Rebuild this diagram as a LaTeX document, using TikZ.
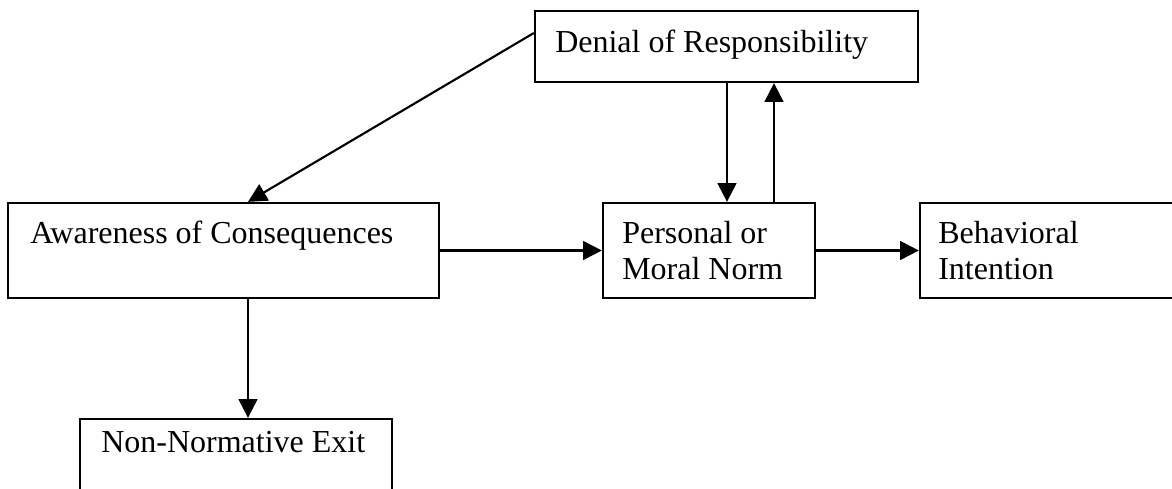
\documentclass[tikz,border=0pt]{standalone}
\usepackage{fontspec}
\setmainfont{Liberation Serif}
\usetikzlibrary{arrows.meta}
\begin{document}
\begin{tikzpicture}[x=0.75pt,y=-0.75pt,
  box/.style={draw=black,line width=1.7pt,inner sep=0pt},
  lbl/.style={anchor=base west,inner sep=0pt,align=left,
    font=\fontsize{24pt}{27pt}\selectfont},
  arr/.style={line width=1.6pt,-{Triangle[length=14pt,width=14pt]}}]
\useasboundingbox (0,0) rectangle (1172,489);
\clip (0,0) rectangle (1172,489);
% boxes
\node[box,minimum width=383*0.75pt,minimum height=71*0.75pt] (den) at (726.5,46.5) {};
\node[box,minimum width=431*0.75pt,minimum height=95*0.75pt] (awa) at (223.5,250.5) {};
\node[box,minimum width=212*0.75pt,minimum height=95*0.75pt] (per) at (709,250.5) {};
\node[box,minimum width=260*0.75pt,minimum height=95*0.75pt] (beh) at (1050,250.5) {};
\node[box,minimum width=312*0.75pt,minimum height=100*0.75pt] (non) at (236,469) {};
% labels (two-line labels are placed by the baseline of their last line)
\node[lbl] (denT) at (555,52) {Denial of Responsibility};
\node[lbl] (awaT) at (30,243) {Awareness of Consequences};
\node[lbl] (perT) at (622,279) {Personal or\\Moral Norm};
\node[lbl] (behT) at (938,279) {Behavioral\\Intention};
\node[lbl] (nonT) at (101,452) {Non-Normative Exit};
% guide positions for connectors
\coordinate (yd) at (0,33);
\coordinate (xa) at (248,0);
\coordinate (xd) at (727,0);
\coordinate (xu) at (774,0);
% connectors
\draw[arr] (den.west |- yd) -- (awa.north -| xa);
\draw[arr] (awa.south -| xa) -- (non.north -| xa);
\draw[arr] (den.south -| xd) -- (per.north -| xd);
\draw[arr] (per.north -| xu) -- (den.south -| xu);
\draw[arr] (awa.east) -- (per.west);
\draw[arr] (per.east) -- (beh.west);
\end{tikzpicture}
\end{document}
